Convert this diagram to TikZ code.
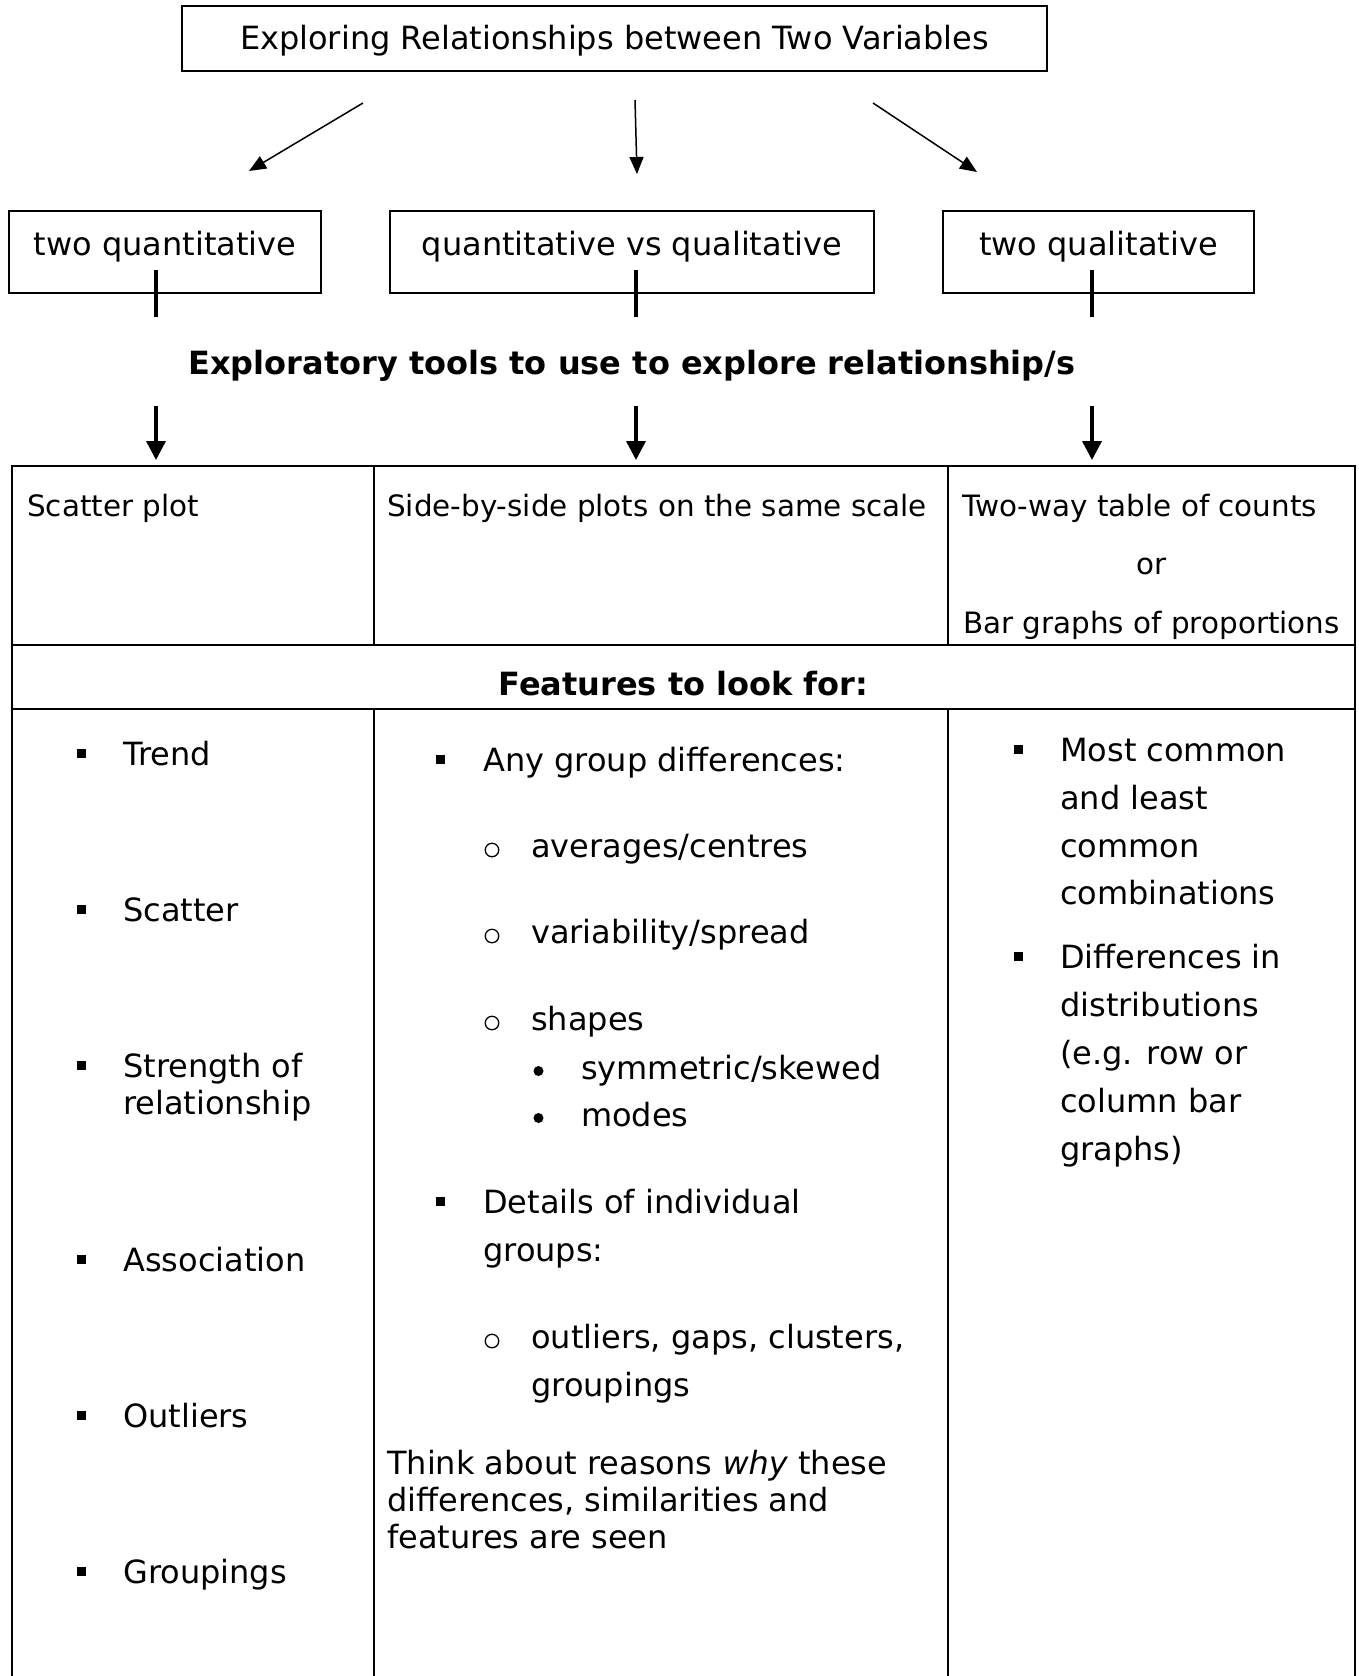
\documentclass[tikz,border=0pt]{standalone}
\usepackage{fontspec}
\setmainfont{DejaVu Sans}
\usetikzlibrary{arrows.meta}
\newcommand\myfs{\fontsize{32}{38}\selectfont}
\newcommand\rowfs{\fontsize{29.4}{36}\selectfont}
\begin{document}
\begin{tikzpicture}[x=1pt,y=-1pt,
  box/.style={draw, line width=1.5pt, inner sep=0pt, rectangle},
  lbl/.style={inner sep=0pt, anchor=base, font=\myfs},
  txt/.style={inner sep=0pt, anchor=base west, font=\myfs},
  rtxt/.style={inner sep=0pt, anchor=base west, font=\rowfs},
  thinarrow/.style={line width=1.5pt, -{Triangle[length=17pt,width=14pt]}},
  thickarrow/.style={line width=3.5pt, -{Triangle[length=19pt,width=19pt]}},
  stub/.style={line width=4.5pt},
  grid/.style={line width=2.5pt},
  sqb/.style={fill, rectangle, inner sep=0pt, minimum size=9pt},
  cib/.style={draw, circle, line width=1.3pt, inner sep=0pt, minimum size=13.5pt},
  dotb/.style={fill, circle, inner sep=0pt, minimum size=10pt}]
\useasboundingbox (0,0) rectangle (1359,1676);
\fill[white] (0,0) rectangle (1359,1676);

% top box
\node[box, minimum width=865pt, minimum height=65pt] (top) at (614.5,38.5) {};
\node[lbl] (title) at (614.5,49) {Exploring Relationships between Two Variables};

% top arrows
\coordinate (a1s) at (363,103); \coordinate (a1e) at (249,171);
\coordinate (a2s) at (635,100); \coordinate (a2e) at (637,174);
\coordinate (a3s) at (873,103); \coordinate (a3e) at (977,172);
\draw[thinarrow] (a1s) -- (a1e);
\draw[thinarrow] (a2s) -- (a2e);
\draw[thinarrow] (a3s) -- (a3e);

% second row boxes
\node[box, minimum width=312pt, minimum height=82pt] (q2) at (165,252) {};
\node[box, minimum width=484pt, minimum height=82pt] (qv) at (632,252) {};
\node[box, minimum width=311pt, minimum height=82pt] (ql) at (1098.5,252) {};
\node[lbl] (q2t) at (165,255) {two quantitative};
\node[lbl] (qvt) at (632,255) {quantitative vs qualitative};
\node[lbl] (qlt) at (1098.5,255) {two qualitative};

% stubs
\coordinate (s1a) at (156,270); \coordinate (s1b) at (156,317);
\coordinate (s2a) at (636,270); \coordinate (s2b) at (636,317);
\coordinate (s3a) at (1092,270); \coordinate (s3b) at (1092,317);
\draw[stub] (s1a) -- (s1b);
\draw[stub] (s2a) -- (s2b);
\draw[stub] (s3a) -- (s3b);

% heading
\node[lbl, font=\myfs\bfseries] (head) at (632,374) {Exploratory tools to use to explore relationship/s};

% bottom arrows
\coordinate (b1s) at (156,406); \coordinate (b1e) at (156,460);
\coordinate (b2s) at (636,406); \coordinate (b2e) at (636,460);
\coordinate (b3s) at (1092,406); \coordinate (b3e) at (1092,460);
\draw[thickarrow] (b1s) -- (b1e);
\draw[thickarrow] (b2s) -- (b2e);
\draw[thickarrow] (b3s) -- (b3e);

% table
\draw[grid] (12,1676) -- (12,466) -- (1355,466) -- (1355,1676);
\draw[grid] (12,645) -- (1355,645);
\draw[grid] (12,709) -- (1355,709);
\draw[grid] (374,466) -- (374,645);
\draw[grid] (948,466) -- (948,645);
\draw[grid] (374,709) -- (374,1676);
\draw[grid] (948,709) -- (948,1676);

% row 1
\node[rtxt] (r1a) at (27,516) {Scatter plot};
\node[rtxt] (r1b) at (387,516) {Side-by-side plots on the same scale};
\node[rtxt] (r1c) at (962,516) {Two-way table of counts};
\node[lbl, font=\rowfs] (r1d) at (1151.5,574) {or};
\node[rtxt] (r1e) at (963,633) {Bar graphs of proportions};

% row 2
\node[lbl, font=\myfs\bfseries] (feat) at (683.5,695) {Features to look for:};

% column 1
\node[sqb] (c1b1) at (81.5,753) {};  \node[txt] (c1t1) at (123,765) {Trend};
\node[sqb] (c1b2) at (81.5,909) {};  \node[txt] (c1t2) at (123,921) {Scatter};
\node[sqb] (c1b3) at (81.5,1065) {}; \node[txt] (c1t3) at (123,1077) {Strength of};
\node[txt] (c1t3b) at (123,1114) {relationship};
\node[sqb] (c1b4) at (81.5,1259) {}; \node[txt] (c1t4) at (123,1271) {Association};
\node[sqb] (c1b5) at (81.5,1415) {}; \node[txt] (c1t5) at (123,1427) {Outliers};
\node[sqb] (c1b6) at (81.5,1571) {}; \node[txt] (c1t6) at (123,1583) {Groupings};

% column 2
\node[sqb] (c2b1) at (440,759) {}; \node[txt] (c2t1) at (483,771) {Any group differences:};
\node[cib] (c2c1) at (492,850) {}; \node[txt] (c2t2) at (531,857) {averages/centres};
\node[cib] (c2c2) at (492,936) {}; \node[txt] (c2t3) at (531,943) {variability/spread};
\node[cib] (c2c3) at (492,1023) {}; \node[txt] (c2t4) at (531,1030) {shapes};
\node[dotb] (c2d1) at (538.5,1071) {}; \node[txt] (c2t5) at (581,1079) {symmetric/skewed};
\node[dotb] (c2d2) at (538.5,1118) {}; \node[txt] (c2t6) at (581,1126) {modes};
\node[sqb] (c2b2) at (440,1201) {}; \node[txt] (c2t7) at (483,1213) {Details of individual};
\node[txt] (c2t8) at (483,1261) {groups:};
\node[cib] (c2c4) at (492,1341) {}; \node[txt] (c2t9) at (531,1348) {outliers, gaps, clusters,};
\node[txt] (c2t10) at (531,1396) {groupings};
\node[txt] (c2t11) at (387,1474) {Think about reasons \textit{why} these};
\node[txt] (c2t12) at (387,1511) {differences, similarities and};
\node[txt] (c2t13) at (387,1548) {features are seen};

% column 3
\node[sqb] (c3b1) at (1018,749) {}; \node[txt] (c3t1) at (1060,761) {Most common};
\node[txt] (c3t2) at (1060,809) {and least};
\node[txt] (c3t3) at (1060,857) {common};
\node[txt] (c3t4) at (1060,904) {combinations};
\node[sqb] (c3b2) at (1018,956) {}; \node[txt] (c3t5) at (1060,968) {Differences in};
\node[txt] (c3t6) at (1060,1016) {distributions};
\node[txt] (c3t7) at (1060,1064) {(e.g. row or};
\node[txt] (c3t8) at (1060,1112) {column bar};
\node[txt] (c3t9) at (1060,1160) {graphs)};
\end{tikzpicture}
\end{document}
